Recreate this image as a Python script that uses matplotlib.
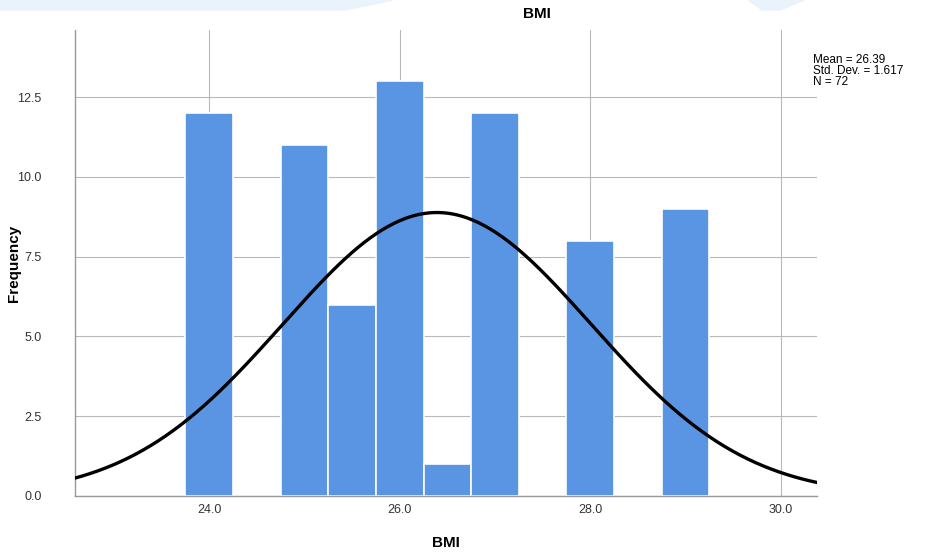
import numpy as np
import matplotlib
matplotlib.use("Agg")
import matplotlib.pyplot as plt
from matplotlib.patches import Polygon

plt.rcParams["font.family"] = ["Liberation Sans", "DejaVu Sans"]

# BMI histogram, bin width 0.5
bin_centers = [24.0, 25.0, 25.5, 26.0, 26.5, 27.0, 28.0, 29.0]
counts = [12, 11, 6, 13, 1, 12, 8, 9]
bin_width = 0.5

mean_bmi = 26.39
std_bmi = 1.617
n_obs = 72

x_ticks = [24.0, 26.0, 28.0, 30.0]
y_ticks = [0.0, 2.5, 5.0, 7.5, 10.0, 12.5]

fig = plt.figure(figsize=(9.35, 5.54), dpi=100)

# faint background watermark shapes along the top edge
wm = "#eaf3fb"
fig.patches.append(Polygon([[0.0, 1.0], [0.42, 1.0], [0.37, 0.982], [0.0, 0.982]],
                           closed=True, transform=fig.transFigure, color=wm, zorder=0))
fig.patches.append(Polygon([[0.80, 1.0], [0.86, 1.0], [0.835, 0.982], [0.815, 0.982]],
                           closed=True, transform=fig.transFigure, color=wm, zorder=0))

ax = fig.add_axes([0.0802, 0.1047, 0.7936, 0.8411])

ax.bar(bin_centers, counts, width=bin_width, color="#5a95e3",
       edgecolor="white", linewidth=1.2, zorder=2)

xs = np.linspace(22.5, 30.5, 400)
pdf = np.exp(-0.5 * ((xs - mean_bmi) / std_bmi) ** 2) / (std_bmi * np.sqrt(2 * np.pi))
ax.plot(xs, pdf * n_obs * bin_width, color="black", linewidth=2.4, zorder=3)

ax.set_xlim(22.59, 30.38)
ax.set_ylim(0, 14.6)
ax.set_xticks(x_ticks)
ax.set_xticklabels([f"{t:.1f}" for t in x_ticks])
ax.set_yticks(y_ticks)
ax.set_yticklabels([f"{t:.1f}" for t in y_ticks])

ax.grid(True, color="#b8b8b8", linewidth=0.8, zorder=0)
ax.set_axisbelow(True)
for side in ["top", "right"]:
    ax.spines[side].set_visible(False)
for side in ["left", "bottom"]:
    ax.spines[side].set_color("#999999")
    ax.spines[side].set_linewidth(1.0)

ax.tick_params(axis="both", length=0, labelsize=9, colors="#333333")
ax.tick_params(axis="y", pad=24)
ax.tick_params(axis="x", pad=6)

ax.set_xlabel("BMI", fontsize=11, fontweight="bold", labelpad=14)
fig.text(0.015, 0.525, "Frequency", rotation=90, ha="center", va="center",
         fontsize=11, fontweight="bold")

fig.text(0.574, 0.974, "BMI", ha="center", va="center", fontsize=11, fontweight="bold")
fig.text(0.869, 0.903,
         f"Mean = {mean_bmi:.2f}\nStd. Dev. = {std_bmi:.3f}\nN = {n_obs}",
         ha="left", va="top", fontsize=8.5, linespacing=0.9)

fig.savefig("out.png", dpi=100)
